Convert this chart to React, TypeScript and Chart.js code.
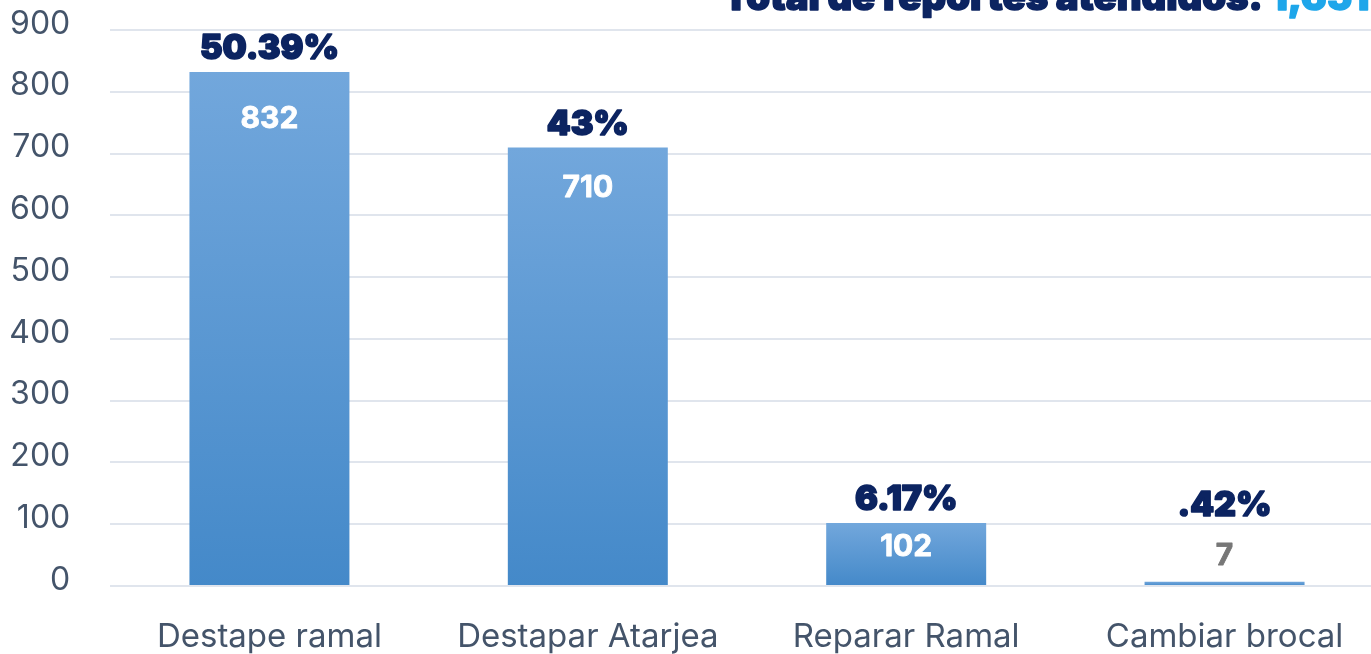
import React, { useEffect, useRef } from "react";
import { Chart, registerables } from "chart.js";

Chart.register(...registerables);

// ---- data ----
const categories = ["Destape ramal", "Destapar Atarjea", "Reparar Ramal", "Cambiar brocal"];
const reportCounts = [832, 710, 102, 7];
const percentLabels = ["50.39%", "43%", "6.17%", ".42%"];
const yMin = 0;
const yMax = 900;
const yStep = 100;
const titleText = "Total de reportes atendidos: ";
const totalText = "1,651";

// ---- layout / style ----
const VIEW_W = 1371;
const VIEW_H = 654;
const OFFSET_TOP = 40;
const CANVAS_W = 1400;
const CANVAS_H = VIEW_H + OFFSET_TOP;
const FONT = "Inter, 'Noto Sans', sans-serif";
const NAVY = "#0c2461";
const LIGHT_BLUE = "#1ea6ea";
const TICK_COLOR = "#44546a";
const GRID_COLOR = "#e0e5ed";

const barLabelPlugin = {
  id: "barLabels",
  afterDatasetsDraw(chart: any) {
    const ctx = chart.ctx;
    const meta = chart.getDatasetMeta(0);
    ctx.save();
    ctx.textAlign = "center";
    ctx.textBaseline = "middle";
    meta.data.forEach((bar: any, i: number) => {
      const { x, y, base } = bar.getProps(["x", "y", "base"], true);
      const h = base - y;
      const inside = h >= 40;
      let valueY: number;
      let valueColor: string;
      if (inside) {
        valueY = y + Math.min(Math.max(h * 0.092, 24), 60);
        valueColor = "#ffffff";
      } else {
        valueY = y - 26;
        valueColor = "#777777";
      }
      ctx.font = `700 30px ${FONT}`;
      ctx.fillStyle = valueColor;
      ctx.strokeStyle = valueColor;
      ctx.lineWidth = 0.8;
      ctx.fillText(String(reportCounts[i]), x, valueY);
      ctx.strokeText(String(reportCounts[i]), x, valueY);
      const pctY = inside ? y - 23 : valueY - 50;
      ctx.font = `900 34px ${FONT}`;
      ctx.fillStyle = NAVY;
      ctx.strokeStyle = NAVY;
      ctx.lineWidth = 1.6;
      ctx.lineJoin = "round";
      ctx.fillText(percentLabels[i], x, pctY);
      ctx.strokeText(percentLabels[i], x, pctY);
    });
    ctx.restore();
  },
};

const titlePlugin = {
  id: "cornerTitle",
  afterDraw(chart: any) {
    const ctx = chart.ctx;
    ctx.save();
    const targetWidth = 540;
    ctx.font = `900 36px ${FONT}`;
    const w36 = ctx.measureText(titleText.trimEnd()).width;
    const size = 36 * targetWidth / w36;
    ctx.font = `900 ${size}px ${FONT}`;
    ctx.textAlign = "left";
    ctx.textBaseline = "alphabetic";
    ctx.lineJoin = "round";
    const x0 = 723;
    const baseY = OFFSET_TOP + 10;
    ctx.fillStyle = NAVY;
    ctx.strokeStyle = NAVY;
    ctx.lineWidth = 1.5;
    ctx.fillText(titleText, x0, baseY);
    ctx.strokeText(titleText, x0, baseY);
    const w = ctx.measureText(titleText).width;
    ctx.fillStyle = LIGHT_BLUE;
    ctx.strokeStyle = LIGHT_BLUE;
    ctx.fillText(totalText, x0 + w, baseY);
    ctx.strokeText(totalText, x0 + w, baseY);
    ctx.restore();
  },
};

export default function App() {
  const canvasRef = useRef<HTMLCanvasElement | null>(null);

  useEffect(() => {
    const canvas = canvasRef.current;
    if (!canvas) return;
    const chart = new Chart(canvas, {
      type: "bar",
      data: {
        labels: categories,
        datasets: [
          {
            data: reportCounts,
            backgroundColor: (c: any) => {
              const ch = c.chart;
              const ys = ch.scales && ch.scales.y;
              if (!ys || c.type !== "data" || c.dataIndex == null) return "#5b9bd8";
              const top = ys.getPixelForValue(reportCounts[c.dataIndex]);
              const bottom = ys.getPixelForValue(0);
              if (!isFinite(top) || !isFinite(bottom) || bottom - top < 1) return "#5b9bd8";
              const g = ch.ctx.createLinearGradient(0, top, 0, bottom);
              g.addColorStop(0, "#72a7dc");
              g.addColorStop(1, "#4489c9");
              return g;
            },
            borderWidth: 0,
            categoryPercentage: 1,
            barPercentage: 0.5025,
          },
        ],
      },
      options: {
        responsive: false,
        animation: false,
        devicePixelRatio: 1,
        layout: { padding: { top: 70, right: CANVAS_W - 1383.75, left: 0, bottom: 0 } },
        plugins: {
          legend: { display: false },
          tooltip: { enabled: false },
          title: { display: false },
        },
        scales: {
          x: {
            grid: { display: false, drawTicks: false },
            border: { display: false },
            ticks: {
              color: TICK_COLOR,
              font: { family: FONT, size: 33, weight: 400 },
              padding: 31,
              maxRotation: 0,
              autoSkip: false,
            },
            afterFit: (s: any) => {
              s.height = 68;
            },
          },
          y: {
            min: yMin,
            max: yMax,
            grid: { color: GRID_COLOR, lineWidth: 2, drawTicks: false },
            border: { display: false },
            ticks: {
              stepSize: yStep,
              color: TICK_COLOR,
              font: { family: FONT, size: 32, weight: 400 },
              padding: 40,
              labelOffset: -6,
            },
            afterFit: (s: any) => {
              s.width = 110.25;
            },
          },
        },
      },
      plugins: [barLabelPlugin, titlePlugin],
    } as any);
    return () => chart.destroy();
  }, []);

  return (
    <div
      style={{
        position: "fixed",
        left: 0,
        top: 0,
        width: VIEW_W,
        height: VIEW_H,
        overflow: "hidden",
        background: "#ffffff",
      }}
    >
      <canvas
        ref={canvasRef}
        width={CANVAS_W}
        height={CANVAS_H}
        style={{ position: "absolute", left: 0, top: -OFFSET_TOP, width: CANVAS_W, height: CANVAS_H }}
      />
    </div>
  );
}
